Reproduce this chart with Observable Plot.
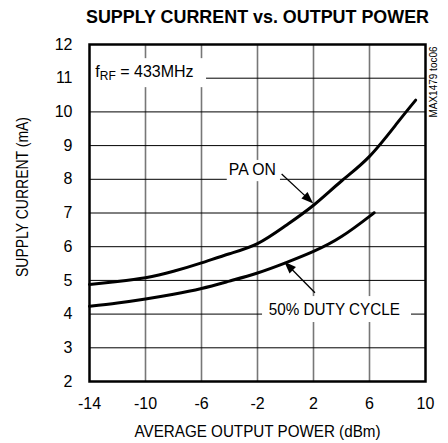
<!DOCTYPE html>
<html>
<head>
<meta charset="utf-8">
<script src="https://cdn.jsdelivr.net/npm/d3@7"></script>
<script src="https://cdn.jsdelivr.net/npm/@observablehq/plot@0.6"></script>
<style>
  html, body { margin: 0; padding: 0; background: #fff; }
  svg { display: block; }
</style>
</head>
<body>
<div id="chart"></div>
<script>
// ---- data ----
const paOnPower  = [-14, -12, -10, -8, -6, -4, -2, 0, 2, 4, 6, 8, 9.3];
const paOnCurrent = [4.88, 4.97, 5.08, 5.27, 5.52, 5.79, 6.09, 6.62, 7.23, 7.95, 8.68, 9.68, 10.35];
const dutyPower  = [-14, -12, -10, -8, -6, -4, -2, 0, 2, 4, 6, 6.3];
const dutyCurrent = [4.23, 4.33, 4.45, 4.59, 4.76, 4.98, 5.22, 5.52, 5.86, 6.3, 6.9, 7.0];

const xTicks = [-14, -10, -6, -2, 2, 6, 10];
const yTicks = [2, 3, 4, 5, 6, 7, 8, 9, 10, 11, 12];
const xGrid = [-10, -6, -2, 2, 6];
const yGrid = [3, 4, 5, 6, 7, 8, 9, 10, 11];

const titleText = "SUPPLY CURRENT vs. OUTPUT POWER";
const xLabel = "AVERAGE OUTPUT POWER (dBm)";
const yLabel = "SUPPLY CURRENT (mA)";
const sideNote = "MAX1479 toc06";

// annotation labels (data coordinates)
const labelText = ["PA ON", "50% DUTY CYCLE"];
const labelX = [-4.05, -1.19];
const labelY = [8.29, 4.12];

// white label boxes behind annotations (data coordinates)
const boxX1 = [-14, -4.16, -1.64];
const boxX2 = [-5.64, -0.36, 9.0];
const boxY1 = [10.72, 7.93, 3.75];
const boxY2 = [11.58, 8.56, 4.52];

// arrows: tail (x1,y1) -> head (x2,y2)
const arrowX1 = [-0.24, 2.14];
const arrowY1 = [8.14, 4.62];
const arrowX2 = [2.02, -0.05];
const arrowY2 = [7.27, 5.54];

// frequency note anchor
const noteX = -13.55, noteY = 11.03;

// ---- build tables ----
const curves = [
  ...paOnPower.map((p, i) => ({series: "PA ON", power: p, current: paOnCurrent[i]})),
  ...dutyPower.map((p, i) => ({series: "50% DUTY CYCLE", power: p, current: dutyCurrent[i]}))
];
const labels = labelText.map((t, i) => ({text: t, x: labelX[i], y: labelY[i]}));
const boxes = boxX1.map((_, i) => ({x1: boxX1[i], x2: boxX2[i], y1: boxY1[i], y2: boxY2[i]}));
const arrows = arrowX1.map((_, i) => ({x1: arrowX1[i], y1: arrowY1[i], x2: arrowX2[i], y2: arrowY2[i]}));

const FONT = "'Liberation Sans Narrow', 'Arial Narrow', 'Liberation Sans', Arial, sans-serif";

// rendered text widths (px) of the condensed reference lettering
const textWidths = new Map([
  [titleText, 343], [xLabel, 246], [yLabel, 160], ["PA ON", 47], ["50% DUTY CYCLE", 131]
]);

function arrowMark(index, scales) {
  const {x, y} = scales;
  const g = d3.create("svg:g");
  for (const a of arrows) {
    const X1 = x(a.x1), Y1 = y(a.y1), X2 = x(a.x2), Y2 = y(a.y2);
    const dx = X2 - X1, dy = Y2 - Y1, L = Math.hypot(dx, dy);
    const ux = dx / L, uy = dy / L, hl = 12, hw = 4.5;
    const bx = X2 - ux * hl, by = Y2 - uy * hl;
    g.append("line").attr("x1", X1).attr("y1", Y1).attr("x2", bx + ux * 2).attr("y2", by + uy * 2)
      .attr("stroke", "#000").attr("stroke-width", 1.3);
    g.append("path")
      .attr("d", `M${X2},${Y2}L${bx - uy * hw},${by + ux * hw}L${bx + uy * hw},${by - ux * hw}Z`)
      .attr("fill", "#000");
  }
  return g.node();
}

function noteMark(index, scales) {
  const {x, y} = scales;
  const t = d3.create("svg:text")
    .attr("x", x(noteX)).attr("y", y(noteY))
    .attr("font-family", FONT).attr("font-size", 16)
    .attr("text-anchor", "start").attr("fill", "#000");
  t.append("tspan").text("f");
  t.append("tspan").attr("font-size", 12).attr("dy", 3).text("RF");
  t.append("tspan").attr("dy", -3).text(" = 433MHz");
  return t.node();
}

const chart = Plot.plot({
  width: 448,
  height: 443,
  marginLeft: 89,
  marginRight: 23,
  marginTop: 44,
  marginBottom: 62,
  style: {background: "#fff", fontFamily: FONT, fontSize: "16px", color: "#000"},
  x: {domain: [-14, 10], ticks: xTicks, tickSize: 0, tickPadding: 16, label: null, tickFormat: d => String(d).replace("−", "-")},
  y: {domain: [2, 12], ticks: yTicks, tickSize: 0, tickPadding: 17, label: null},
  marks: [
    Plot.ruleX(xGrid, {stroke: "#777", strokeWidth: 1.6}),
    Plot.ruleY(yGrid, {stroke: "#000", strokeWidth: 1}),
    Plot.rect(boxes, {x1: "x1", x2: "x2", y1: "y1", y2: "y2", fill: "#fff"}),
    noteMark,
    Plot.text(labels, {x: "x", y: "y", text: "text", textAnchor: "start", fontSize: 16, fill: "#000"}),
    Plot.line(curves, {x: "power", y: "current", z: "series", curve: "natural",
      stroke: "#000", strokeWidth: 3}),
    arrowMark,
    Plot.frame({stroke: "#000", strokeWidth: 2.5}),
    Plot.text([titleText], {frameAnchor: "top", dy: -27, lineAnchor: "middle", textAnchor: "middle",
      fontSize: 18.5, fontWeight: "bold"}),
    Plot.text([xLabel], {frameAnchor: "bottom", dy: 50, lineAnchor: "middle", textAnchor: "middle", fontSize: 16}),
    Plot.text([yLabel], {frameAnchor: "left", dx: -67, dy: -16, rotate: -90, lineAnchor: "middle",
      textAnchor: "middle", fontSize: 16}),
    Plot.text([sideNote], {frameAnchor: "top-right", dx: 8.5, dy: 37.5, rotate: -90,
      lineAnchor: "middle", textAnchor: "middle", fontSize: 10})
  ]
});
document.getElementById("chart").appendChild(chart);

// condense lettering to the reference's narrow typeface widths
d3.select(chart).selectAll("text").each(function () {
  const w = textWidths.get(this.textContent);
  if (w) {
    this.setAttribute("textLength", w);
    this.setAttribute("lengthAdjust", "spacingAndGlyphs");
  }
});
</script>
</body>
</html>
